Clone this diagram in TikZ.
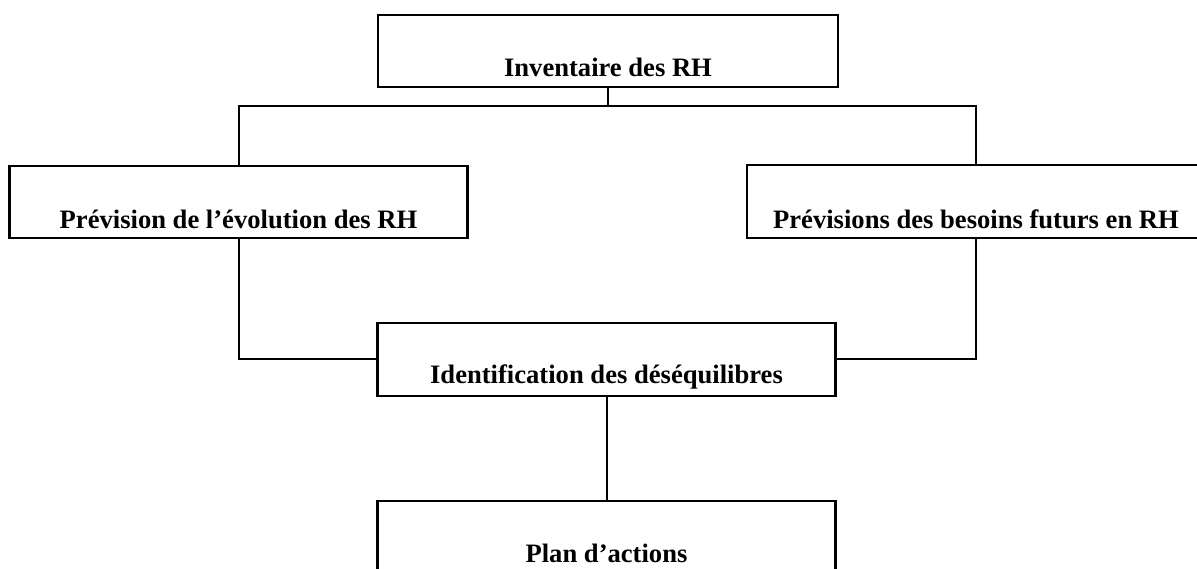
\documentclass[tikz,border=0pt]{standalone}
\usepackage{fontspec}
\setmainfont{Liberation Serif}
\begin{document}
\begin{tikzpicture}[x=1pt,y=1pt,
  box/.style={draw, line width=2.2pt, inner sep=0pt, minimum width=458pt,
    font=\fontsize{26.6}{30}\selectfont\bfseries},
  link/.style={line width=2pt}]
\useasboundingbox (0,0) rectangle (1197,568);
\clip (0,0) rectangle (1197,568);
\node[box, minimum width=460pt, text height=62pt, text depth=10pt] (inv) at (608,517) {Inventaire des RH};
\node[box, text height=63pt, text depth=9pt] (evo) at (238.5,366) {Prévision de l’évolution des RH};
\node[box, text height=64pt, text depth=9pt] (bes) at (976,366.5) {Prévisions des besoins futurs en RH};
\node[box, text height=61pt, text depth=12pt] (ide) at (606.5,208.5) {Identification des déséquilibres};
\node[box, text height=61pt, text depth=13pt] (plan) at (606.5,30) {Plan d’actions};
\coordinate (bus) at (608,462);
\draw[link] (inv.south) -- (bus);
\draw[link] (evo.north) |- (bus) -| (bes.north);
\draw[link] (evo.south) |- (ide.west);
\draw[link] (bes.south) |- (ide.east);
\draw[link] (ide.south) -- (plan.north);
\end{tikzpicture}
\end{document}
